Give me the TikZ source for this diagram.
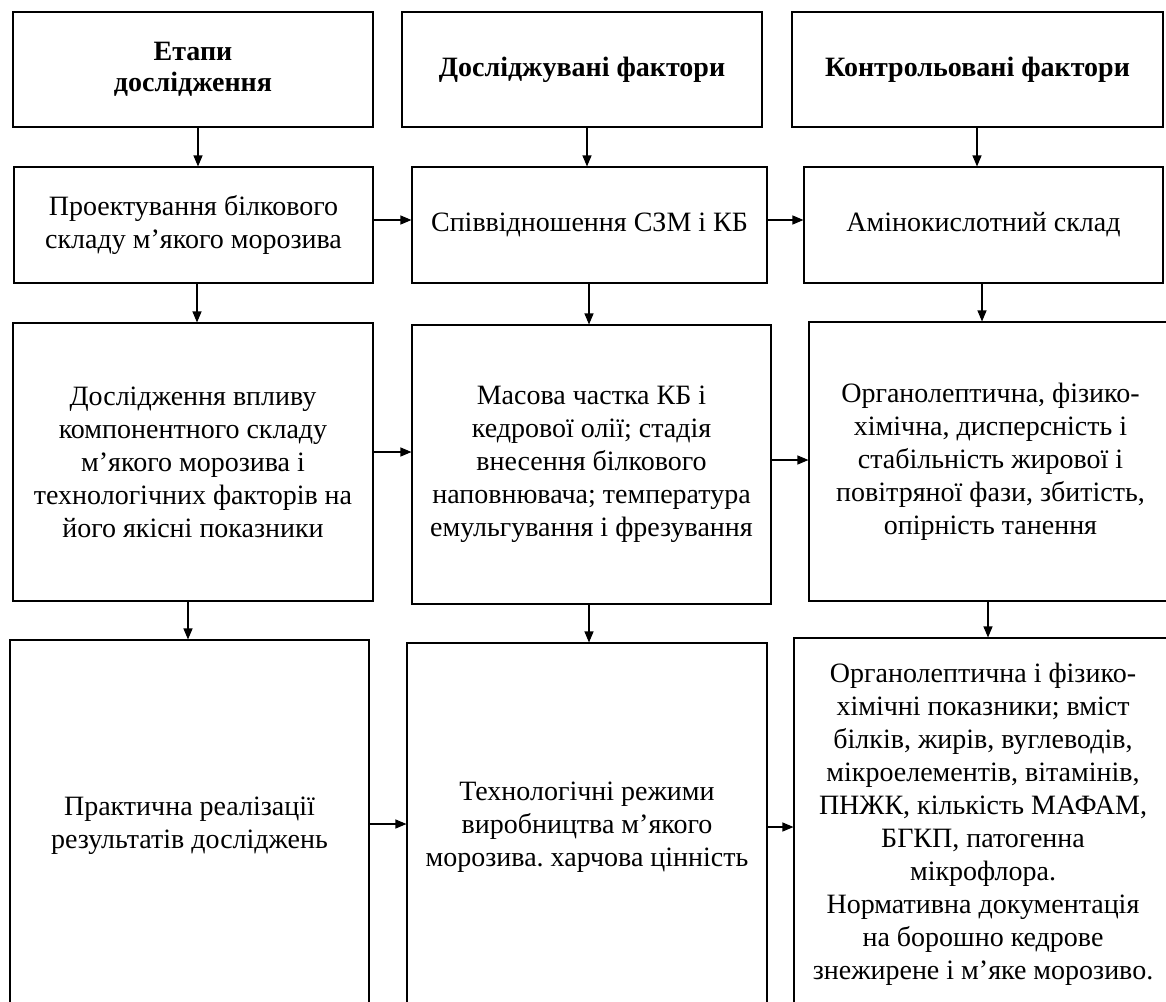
\documentclass[tikz,border=0pt]{standalone}
\usepackage{fontspec}
\setmainfont{Liberation Serif}
\usetikzlibrary{arrows.meta}
\frenchspacing
\tikzset{
  box/.style={draw, line width=1.1pt, inner sep=0pt, align=center,
    font=\fontsize{28}{33}\selectfont\frenchspacing},
  head/.style={box, font=\fontsize{28}{31}\selectfont\bfseries},
  arr/.style={line width=1.1pt, -{Triangle[length=11pt,width=9pt]}}
}
\begin{document}
\begin{tikzpicture}[x=1pt,y=-1pt]
\useasboundingbox (0,0) rectangle (1166,1001);
\clip (0,0) rectangle (1166,1001);
\fill[white] (0,0) rectangle (1166,1001);
% row 1
\node[head, minimum width=360, minimum height=115] (a1) at (193,69.5) {Етапи\\дослідження};
\node[head, minimum width=360, minimum height=115] (b1) at (582,69.5) {Досліджувані фактори};
\node[head, minimum width=371, minimum height=115] (c1) at (977.5,69.5) {Контрольовані фактори};
% row 2
\node[box, minimum width=359, minimum height=116] (a2) at (193.5,225) {Проектування білкового\\складу м’якого морозива};
\node[box, minimum width=355, minimum height=116] (b2) at (589.5,225) {Співвідношення СЗМ і КБ};
\node[box, minimum width=359, minimum height=116] (c2) at (983.5,225) {Амінокислотний склад};
% row 3
\node[box, minimum width=360, minimum height=278] (a3) at (193,462) {Дослідження впливу\\компонентного складу\\м’якого морозива і\\технологічних факторів на\\його якісні показники};
\node[box, minimum width=359, minimum height=279] (b3) at (591.5,464.5) {Масова частка КБ і\\кедрової олії; стадія\\внесення білкового\\наповнювача; температура\\емульгування і фрезування};
\node[box, minimum width=363, minimum height=279] (c3) at (990.5,461.5) {Органолептична, фізико-\\хімічна, дисперсність і\\стабільність жирової і\\повітряної фази, збитість,\\опірність танення};
% row 4
\node[box, minimum width=359, minimum height=372] (a4) at (189.5,826) {Практична реалізації\\результатів досліджень};
\node[box, minimum width=360, minimum height=369] (b4) at (587,827.5) {Технологічні режими\\виробництва м’якого\\морозива. харчова цінність};
\node[box, minimum width=378, minimum height=372] (c4) at (983,824) {Органолептична і фізико-\\хімічні показники; вміст\\білків, жирів, вуглеводів,\\мікроелементів, вітамінів,\\ПНЖК, кількість МАФАМ,\\БГКП, патогенна\\мікрофлора.\\Нормативна документація\\на борошно кедрове\\знежирене і м’яке морозиво.};
% vertical arrows
\draw[arr] ([xshift=5pt]a1.south) -- ([xshift=5pt]a1.south |- a2.north);
\draw[arr] ([xshift=5pt]b1.south) -- ([xshift=5pt]b1.south |- b2.north);
\draw[arr] ([xshift=-0.5pt]c1.south) -- ([xshift=-0.5pt]c1.south |- c2.north);
\draw[arr] ([xshift=3.5pt]a2.south) -- ([xshift=3.5pt]a2.south |- a3.north);
\draw[arr] ([xshift=-0.5pt]b2.south) -- ([xshift=-0.5pt]b2.south |- b3.north);
\draw[arr] ([xshift=-1.5pt]c2.south) -- ([xshift=-1.5pt]c2.south |- c3.north);
\draw[arr] ([xshift=-5pt]a3.south) -- ([xshift=-5pt]a3.south |- a4.north);
\draw[arr] ([xshift=-2.5pt]b3.south) -- ([xshift=-2.5pt]b3.south |- b4.north);
\draw[arr] ([xshift=-2.5pt]c3.south) -- ([xshift=-2.5pt]c3.south |- c4.north);
% horizontal arrows
\draw[arr] ([yshift=5pt]a2.east) -- ([yshift=5pt]a2.east -| b2.west);
\draw[arr] ([yshift=5pt]b2.east) -- ([yshift=5pt]b2.east -| c2.west);
\draw[arr] ([yshift=10pt]a3.east) -- ([yshift=10pt]a3.east -| b3.west);
\draw[arr] ([yshift=4.5pt]b3.east) -- ([yshift=4.5pt]b3.east -| c3.west);
\draw[arr] ([yshift=2pt]a4.east) -- ([yshift=2pt]a4.east -| b4.west);
\draw[arr] ([yshift=0.5pt]b4.east) -- ([yshift=0.5pt]b4.east -| c4.west);
\end{tikzpicture}
\end{document}
